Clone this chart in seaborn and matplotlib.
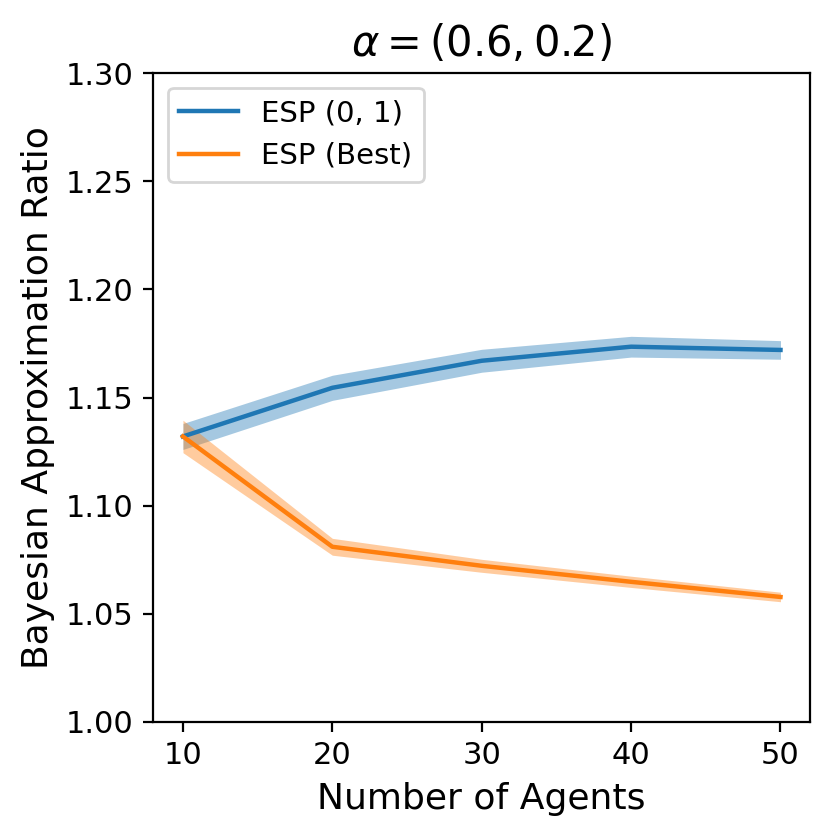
import numpy as np
import pandas as pd
import matplotlib
matplotlib.use('Agg')
import matplotlib.pyplot as plt
import seaborn as sns

# ── Data ─────────────────────────────────────────────────────────────────────
agents     = [10, 20, 30, 40, 50]
esp01_mean = [1.132, 1.1545, 1.167, 1.1735, 1.172]
esp01_ci   = [0.0060, 0.0058, 0.0053, 0.0048, 0.0043]
best_mean  = [1.132, 1.081, 1.0722, 1.0648, 1.0578]
best_ci    = [0.0075, 0.0039, 0.0030, 0.0026, 0.0022]
series     = ["ESP (0, 1)", "ESP (Best)"]

df = pd.concat([
    pd.DataFrame({"agents": agents, "mean": esp01_mean, "ci": esp01_ci, "method": series[0]}),
    pd.DataFrame({"agents": agents, "mean": best_mean,  "ci": best_ci,  "method": series[1]}),
])

colors = {series[0]: '#1f77b4', series[1]: '#ff7f0e'}

fig = plt.figure(figsize=(4.16, 4.2), dpi=200)
ax = fig.add_axes([0.184, 0.1405, 0.79, 0.7725])

sns.lineplot(data=df, x="agents", y="mean", hue="method", palette=colors,
             linewidth=1.6, ax=ax)
for name, grp in df.groupby("method", sort=False):
    ax.fill_between(grp["agents"], grp["mean"] - grp["ci"], grp["mean"] + grp["ci"],
                    color=colors[name], alpha=0.4, linewidth=0)

ax.set_ylim(1.0, 1.3)
ax.set_xticks([10, 20, 30, 40, 50])
ax.set_yticks(np.round(np.arange(1.0, 1.301, 0.05), 2))
ax.set_yticklabels([f"{v:.2f}" for v in np.arange(1.0, 1.301, 0.05)])
ax.tick_params(labelsize=11)
ax.set_xlabel("Number of Agents", fontsize=13)
ax.set_ylabel("Bayesian Approximation Ratio", fontsize=13)
ax.set_title(r"$\alpha = (0.6, 0.2)$", fontsize=15)
ax.legend(loc='upper left', fontsize=10.5, title=None)

plt.savefig("out.png", dpi=200)
plt.close()
